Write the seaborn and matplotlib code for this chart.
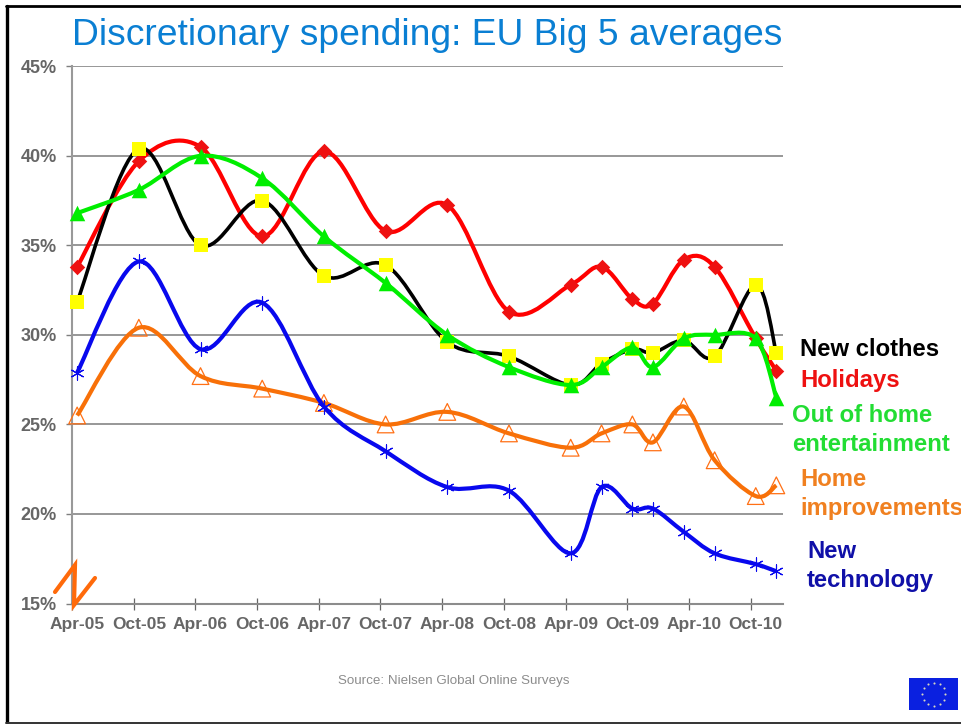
import seaborn as sns
import matplotlib.pyplot as plt
import numpy as np
import pandas as pd
from matplotlib.path import Path
from matplotlib.patches import PathPatch, Rectangle
from matplotlib.lines import Line2D

W, H = 962, 724

# months since Apr-05
months = [0, 6, 12, 18, 24, 30, 36, 42, 48, 51, 54, 56, 59, 62, 66, 68]
tick_labels = ['Apr-05', 'Oct-05', 'Apr-06', 'Oct-06', 'Apr-07', 'Oct-07',
               'Apr-08', 'Oct-08', 'Apr-09', 'Oct-09', 'Apr-10', 'Oct-10']
tick_months = [0, 6, 12, 18, 24, 30, 36, 42, 48, 54, 60, 66]

holidays = [33.8, 39.7, 40.5, 35.5, 40.25, 35.8, 37.25, 31.3, 32.8, 33.8, 32.0, 31.75, 34.2, 33.8, 29.8, 28.0]
clothes = [31.85, 40.4, 35.0, 37.5, 33.3, 33.9, 29.6, 28.8, 27.2, 28.4, 29.2, 29.0, 29.7, 28.8, 32.8, 29.0]
out_of_home = [36.8, 38.1, 40.0, 38.75, 35.5, 32.9, 30.0, 28.2, 27.2, 28.2, 29.3, 28.2, 29.8, 30.0, 29.8, 26.5]
home_impr = [25.5, 30.4, 27.7, 27.0, 26.2, 25.0, 25.7, 24.5, 23.7, 24.5, 25.0, 24.0, 26.0, 23.0, 21.0, 21.6]
technology = [27.9, 34.1, 29.2, 31.8, 26.0, 23.5, 21.5, 21.3, 17.8, 21.5, 20.3, 20.3, 19.0, 17.8, 17.2, 16.8]

df = pd.DataFrame({'month': months, 'holidays': holidays, 'clothes': clothes,
                   'out_of_home': out_of_home, 'home_impr': home_impr, 'technology': technology})


def smooth_path(x, y):
    # excel style smoothed line, bezier segments through the points
    verts = [(x[0], y[0])]
    codes = [Path.MOVETO]
    n = len(x)
    for i in range(n - 1):
        x0, y0 = (x[i - 1], y[i - 1]) if i > 0 else (x[i], y[i])
        x3, y3 = (x[i + 2], y[i + 2]) if i + 2 < n else (x[i + 1], y[i + 1])
        verts.append((x[i] + (x[i + 1] - x0) / 6, y[i] + (y[i + 1] - y0) / 6))
        verts.append((x[i + 1] - (x3 - x[i]) / 6, y[i + 1] - (y3 - y[i]) / 6))
        verts.append((x[i + 1], y[i + 1]))
        codes += [Path.CURVE4] * 3
    return Path(verts, codes)


sns.set_style('white')
plt.rcParams['font.family'] = ['Liberation Sans', 'DejaVu Sans']

fig = plt.figure(figsize=(W / 100, H / 100), dpi=100)
ax = fig.add_axes([72 / W, 1 - 603.5 / H, (783 - 72) / W, (603.5 - 66.3) / H])

grey = '#7f7f7f'
ax.set_xlim(-0.5, 68.65)
ax.set_ylim(15, 45)
ax.set_yticks([15, 20, 25, 30, 35, 40, 45])
ax.set_yticklabels(['15%', '20%', '25%', '30%', '35%', '40%', '45%'],
                   fontsize=13, fontweight='bold', color='#666666')
ax.yaxis.grid(True, color='#858585', lw=1.2, zorder=0)
ax.xaxis.grid(False)
ax.set_xticks([m - 0.5 for m in tick_months])
ax.set_xticklabels([])
ax.set_xticks(tick_months, minor=True)
ax.set_xticklabels(tick_labels, minor=True, fontsize=12.5, fontweight='bold', color='#666666')
ax.tick_params(axis='x', which='major', direction='inout', length=8, width=0.9, color='#666666', bottom=True)
ax.tick_params(axis='x', which='minor', length=0, pad=9.5, bottom=False)
ax.tick_params(axis='y', which='major', direction='out', length=4, width=1, color=grey, pad=7, left=True)
for side in ['top', 'right']:
    ax.spines[side].set_visible(False)
ax.spines['left'].set_color('#999999')
ax.spines['left'].set_linewidth(1.5)
ax.spines['bottom'].set_color('#8c8c8c')
ax.spines['bottom'].set_linewidth(1.5)

z = 3
# red
ax.add_patch(PathPatch(smooth_path(months, holidays), fc='none', ec='#ff0000', lw=3, zorder=z))
sns.scatterplot(data=df, x='month', y='holidays', marker='D', s=62, color='#ee1111', linewidth=0,
                zorder=z + 0.5, clip_on=False, ax=ax)
# black with yellow squares
ax.add_patch(PathPatch(smooth_path(months, clothes), fc='none', ec='#000000', lw=2.6, zorder=z + 1))
sns.scatterplot(data=df, x='month', y='clothes', marker='s', s=105, color='#ffff00', linewidth=0,
                zorder=z + 1.5, clip_on=False, ax=ax)
# green
ax.add_patch(PathPatch(smooth_path(months, out_of_home), fc='none', ec='#00ee00', lw=3, zorder=z + 2))
sns.scatterplot(data=df, x='month', y='out_of_home', marker='^', s=125, color='#00ee00', linewidth=0,
                zorder=z + 2.5, clip_on=False, ax=ax)
# orange, hollow triangles under the line
sns.scatterplot(data=df, x='month', y='home_impr', marker='^', s=145, facecolor='none', edgecolor='#ff7015',
                linewidth=0.9, zorder=z + 3, clip_on=False, ax=ax)
ax.add_patch(PathPatch(smooth_path(months, home_impr), fc='none', ec='#f87008', lw=3, zorder=z + 3.5))
# blue asterisks
ax.add_patch(PathPatch(smooth_path(months, technology), fc='none', ec='#0808ee', lw=3, zorder=z + 4))
sns.scatterplot(data=df, x='month', y='technology', marker=(6, 2, 0), s=90, color='#0808ee', linewidth=0.8,
                zorder=z + 4.5, clip_on=False, ax=ax)
ax.set_xlabel('')
ax.set_ylabel('')

# title and source
fig.text(72 / W, 1 - 45 / H, 'Discretionary spending: EU Big 5 averages', fontsize=26.8, color='#0a7fd3')
fig.text(454 / W, 1 - 681 / H, 'Source: Nielsen Global Online Surveys', fontsize=9.6,
         color='#8c8c8c', ha='center', va='center')

# direct labels
labels = [('New clothes', 800, 349, '#000000'),
          ('Holidays', 800, 381, '#ee1111'),
          ('Out of home', 792, 416, '#22dd33'),
          ('entertainment', 792, 445, '#22dd33'),
          ('Home', 800, 480, '#f08020'),
          ('improvements', 800, 509, '#f08020'),
          ('New', 807, 551, '#1010a8'),
          ('technology', 807, 581, '#1010a8')]
for text, px, py, col in labels:
    fig.text(px / W, 1 - py / H, text, fontsize=17.2, fontweight='bold', color=col, va='center')

# axis break zigzag
zig_x = [55, 75, 74, 95]
zig_y = [592, 565, 605, 578]
fig.add_artist(Line2D([v / W for v in zig_x], [1 - v / H for v in zig_y], color='#ff6a0a', lw=3, zorder=20,
                      solid_joinstyle='miter'))

# slide frame
fig.add_artist(Line2D([6.5 / W, 6.5 / W], [1 - 6 / H, 1 - 722 / H], color='black', lw=2.4))
fig.add_artist(Line2D([6 / W, 1], [1 - 6 / H, 1 - 6 / H], color='black', lw=2))
fig.add_artist(Line2D([6 / W, 1], [1 - 722.5 / H, 1 - 722.5 / H], color='#333333', lw=1.4))

# EU flag
fig.add_artist(Rectangle((909 / W, 1 - 710 / H), 49 / W, 32 / H, transform=fig.transFigure,
                         fc='#0a20e0', ec='none'))
angles = np.arange(12) * np.pi / 6
fig.add_artist(Line2D((934 + 11.5 * np.cos(angles)) / W, 1 - (694 + 11.5 * np.sin(angles)) / H,
                      ls='none', marker='o', ms=1.5, mfc='#d8d8c0', mec='none'))

fig.savefig('out.png', dpi=100)
